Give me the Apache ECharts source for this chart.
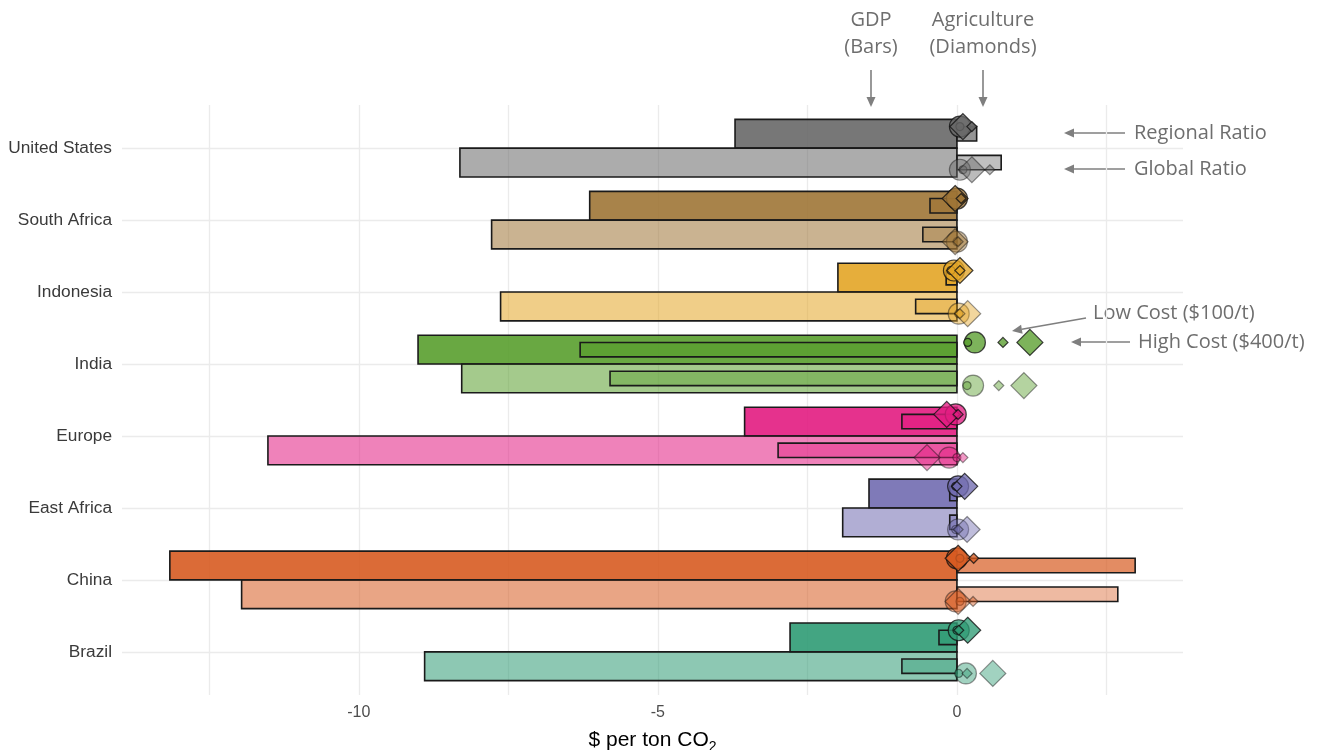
<!DOCTYPE html>
<html>
<head>
<meta charset="utf-8">
<script src="https://cdn.jsdelivr.net/npm/echarts@6/dist/echarts.min.js"></script>
<style>
  html, body { margin: 0; padding: 0; background: #ffffff; }
  #chart { width: 1317px; height: 750px; }
</style>
</head>
<body>
<div id="chart"></div>
<script>
// Regions, top to bottom
const regions = ['United States', 'South Africa', 'Indonesia', 'India', 'Europe', 'East Africa', 'China', 'Brazil'];
const regionColors = ['#686868', '#9F7536', '#E3A526', '#599E2D', '#E21C81', '#716CB0', '#D75B21', '#2F9B74'];

// GDP effect, $ per ton CO2 — high cost ($400/t) wide bars
const gdpHighRegional = [-3.71, -6.14, -1.99, -9.01, -3.55, -1.47, -13.16, -2.79];
const gdpHighGlobal   = [-8.31, -7.78, -7.63, -8.28, -11.52, -1.91, -11.96, -8.90];
// GDP effect — low cost ($100/t) narrow bars
const gdpLowRegional  = [0.33, -0.45, -0.18, -6.30, -0.92, -0.12, 2.98, -0.30];
const gdpLowGlobal    = [0.74, -0.57, -0.69, -5.80, -2.99, -0.12, 2.69, -0.92];

// Agriculture effect — circles
const circleHighRegional = [0.05, 0.00, -0.05, 0.30, -0.02, 0.02, 0.00, 0.03];
const circleHighGlobal   = [0.05, 0.00, 0.03, 0.27, -0.13, 0.02, -0.02, 0.15];
const circleLowRegional  = [0.05, 0.08, -0.10, 0.18, 0.00, -0.02, 0.05, 0.00];
const circleLowGlobal    = [0.10, 0.00, 0.03, 0.17, 0.00, -0.02, 0.05, 0.03];
// Agriculture effect — diamonds
const diamondHighRegional = [0.10, -0.03, 0.05, 1.22, -0.17, 0.13, 0.02, 0.18];
const diamondHighGlobal   = [0.25, -0.03, 0.18, 1.12, -0.50, 0.17, 0.02, 0.60];
const diamondLowRegional  = [0.25, 0.07, 0.05, 0.77, 0.02, 0.00, 0.28, 0.03];
const diamondLowGlobal    = [0.55, 0.02, 0.05, 0.70, 0.10, 0.02, 0.27, 0.17];

// Axis ticks
const xGridValues = [-12.5, -10, -7.5, -5, -2.5, 0, 2.5];
const xLabelValues = [-10, -5, 0];
const yTickValues = [1, 2, 3, 4, 5, 6, 7, 8];

// Vertical position of a region (United States on top)
const pos = i => regions.length - i;

function rgba(hex, a) {
  const n = parseInt(hex.slice(1), 16);
  return 'rgba(' + ((n >> 16) & 255) + ',' + ((n >> 8) & 255) + ',' + (n & 255) + ',' + a + ')';
}

// Bar rows: [value, y, regionIndex, alpha]
function barRows(values, offset, alpha) {
  return values.map((v, i) => [v, pos(i) + offset, i, alpha]);
}

function barRenderer(thickness) {
  return function (params, api) {
    const v = api.value(0), y = api.value(1);
    const a = api.coord([0, y]);
    const b = api.coord([v, y]);
    const h = api.size([0, thickness])[1];
    return {
      type: 'rect',
      shape: { x: Math.min(a[0], b[0]), y: a[1] - h / 2, width: Math.abs(b[0] - a[0]), height: h },
      style: { fill: rgba(regionColors[api.value(2)], api.value(3)), stroke: '#1a1a1a', lineWidth: 1.6 }
    };
  };
}

function barSeries(name, rows, thickness) {
  return {
    name, type: 'custom', renderItem: barRenderer(thickness), data: rows,
    encode: { x: 0, y: 1 }, z: 2, silent: true
  };
}

function markerData(values, offset, alpha) {
  return values.map((v, i) => ({
    value: [v, pos(i) + offset],
    itemStyle: { color: regionColors[i], opacity: alpha }
  }));
}

function markerSeries(name, symbol, size, regional, global, z) {
  return {
    name, type: 'scatter', symbol, symbolSize: size, z, silent: true,
    itemStyle: { borderColor: '#111111', borderWidth: 1.2 },
    data: markerData(regional, 0.3, 0.78).concat(markerData(global, -0.3, 0.45))
  };
}

const grey = '#7f7f7f';
function arrow(x1, y1, x2, y2) {
  const ang = Math.atan2(y2 - y1, x2 - x1);
  const len = 10, half = 4.5;
  const bx = x2 - len * Math.cos(ang), by = y2 - len * Math.sin(ang);
  const px = -Math.sin(ang) * half, py = Math.cos(ang) * half;
  return [
    { type: 'line', shape: { x1, y1, x2: bx, y2: by }, style: { stroke: grey, lineWidth: 1.6 } },
    { type: 'polygon', shape: { points: [[x2, y2], [bx + px, by + py], [bx - px, by - py]] }, style: { fill: grey } }
  ];
}
function note(x, y, text, align) {
  return {
    type: 'text', x, y,
    style: {
      text, fill: '#6e6e6e', fontFamily: 'Open Sans', fontSize: 20, lineHeight: 27,
      align: align, verticalAlign: 'middle'
    }
  };
}

const chart = echarts.init(document.getElementById('chart'), null, { renderer: 'canvas' });

chart.setOption({
  animation: false,
  backgroundColor: '#ffffff',
  grid: { left: 122, right: 134, top: 105, bottom: 55, containLabel: false, outerBoundsMode: 'none' },
  xAxis: {
    type: 'value', min: -13.96, max: 3.78,
    axisLine: { show: false },
    axisTick: { show: false, customValues: xGridValues },
    axisLabel: {
      customValues: xLabelValues, margin: 10,
      color: '#4d4d4d', fontFamily: 'Liberation Sans', fontSize: 16
    },
    splitLine: { show: true, lineStyle: { color: '#ebebeb', width: 1.3 } },
    name: '$ per ton CO{sub|2}', nameLocation: 'middle', nameGap: 24,
    nameTextStyle: {
      color: '#000000', fontFamily: 'Liberation Sans', fontSize: 21, lineHeight: 28,
      rich: { sub: { color: '#000000', fontFamily: 'Liberation Sans', fontSize: 14, lineHeight: 14, verticalAlign: 'bottom' } }
    }
  },
  yAxis: {
    type: 'value', min: 0.4, max: 8.6,
    axisLine: { show: false },
    axisTick: { show: false, customValues: yTickValues },
    axisLabel: {
      customValues: yTickValues, margin: 10,
      formatter: v => regions[regions.length - Math.round(v)] || '',
      color: '#3a3a3a', fontFamily: 'Liberation Sans', fontSize: 17.3
    },
    splitLine: { show: true, lineStyle: { color: '#ebebeb', width: 1.3 } }
  },
  series: [
    barSeries('GDP high (regional)', barRows(gdpHighRegional, 0.2, 0.9), 0.4),
    barSeries('GDP high (global)', barRows(gdpHighGlobal, -0.2, 0.55), 0.4),
    barSeries('GDP low (regional)', barRows(gdpLowRegional, 0.2, 0.7), 0.2),
    barSeries('GDP low (global)', barRows(gdpLowGlobal, -0.2, 0.42), 0.2),
    markerSeries('Circle high', 'circle', 21, circleHighRegional, circleHighGlobal, 3),
    markerSeries('Circle low', 'circle', 8, circleLowRegional, circleLowGlobal, 4),
    markerSeries('Diamond high', 'diamond', 26, diamondHighRegional, diamondHighGlobal, 5),
    markerSeries('Diamond low', 'diamond', 10, diamondLowRegional, diamondLowGlobal, 6)
  ],
  graphic: [
    note(871, 34, 'GDP\n(Bars)', 'center'),
    note(983, 34, 'Agriculture\n(Diamonds)', 'center'),
    ...arrow(871, 70, 871, 107),
    ...arrow(983, 70, 983, 107),
    ...arrow(1125, 133, 1064, 133),
    note(1134, 133, 'Regional Ratio', 'left'),
    ...arrow(1125, 169, 1064, 169),
    note(1134, 169, 'Global Ratio', 'left'),
    ...arrow(1086, 318, 1012, 331),
    note(1093, 313, 'Low Cost ($100/t)', 'left'),
    ...arrow(1130, 342, 1071, 342),
    note(1138, 342, 'High Cost ($400/t)', 'left')
  ]
});
</script>
</body>
</html>
